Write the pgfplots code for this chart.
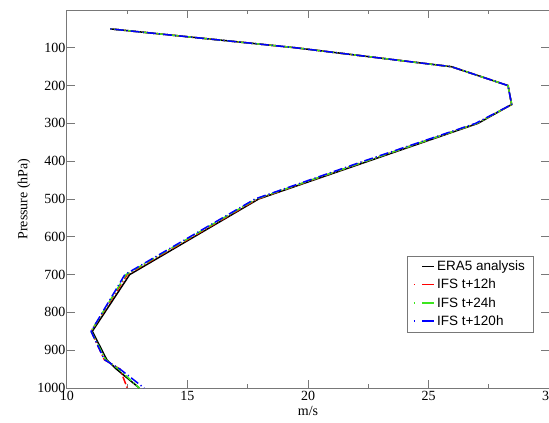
\documentclass[border=0pt]{standalone}
\usepackage{pgfplots}
\pgfplotsset{compat=1.18}
\usepackage{fontspec}
\setmainfont{Liberation Serif}
\newfontfamily\legfont{Liberation Sans}
\definecolor{axgray}{RGB}{120,120,120}
\definecolor{ifsgreen}{RGB}{60,230,30}
\pgfplotsset{
  ifsleg/.style={legend image code/.code={%
    \draw[line width=1.5pt,##1,solid] (0cm,0cm) -- (0.05cm,0cm);
    \draw[line width=1.5pt,##1,solid] (0.3cm,0cm) -- (0.72cm,0cm);}},
}
\begin{document}
\begin{tikzpicture}[trim axis right]
\begin{axis}[
  scale only axis, width=482pt, height=378pt,
  xmin=10, xmax=30, ymin=0, ymax=1000, y dir=reverse,
  xtick={10,15,20,25,30}, minor xtick={12.5,17.5,22.5,27.5},
  ytick={100,200,300,400,500,600,700,800,900,1000},
  tick align=inside, major tick length=8pt, minor tick length=4pt,
  axis line style={axgray, line width=1pt},
  every tick/.style={axgray, line width=1pt},
  /pgf/number format/assume math mode=true,
  /pgf/number format/1000 sep={},
  tick label style={font=\fontsize{14}{16}\selectfont},
  yticklabel style={inner sep=1.5pt},
  xticklabel style={inner sep=3pt},
  xlabel={m/s}, ylabel={Pressure (hPa)},
  label style={font=\fontsize{14}{16}\selectfont},
  xlabel style={yshift=1pt},
  ylabel style={yshift=2pt},
  legend cell align=left,
  legend style={at={(0.967,0.148)}, anchor=south east, draw=axgray,
    font=\legfont\fontsize{13.5}{15}\selectfont, inner xsep=6pt, inner ysep=3pt, row sep=3pt},
  legend image code/.code={\draw[line width=1.5pt,#1,solid] (0.3cm,0cm) -- (0.72cm,0cm);},
]
\coordinate (ax) at (rel axis cs:0,1);
\addplot[black, line width=1.5pt] coordinates {
(11.80,50) (19.5,100) (25.95,150) (28.3,200) (28.45,250) (27.05,300) (22.5,400)
(17.95,500) (12.6,700) (11.05,850) (11.65,925) (12.05,950) (13.0,1000)};
\addlegendentry{ERA5 analysis}
\addplot[red, line width=1.5pt, dash pattern=on 1.2pt off 2.5pt on 8pt off 2.5pt, ifsleg] coordinates {
(11.80,50) (19.5,100) (25.95,150) (28.3,200) (28.45,250) (27.0,300) (22.4,400)
(17.9,500) (12.5,700) (11.0,850) (11.55,925) (12.2,950) (12.5,1000)};
\addlegendentry{IFS t+12h}
\addplot[ifsgreen, line width=1.5pt, dash pattern=on 1.2pt off 2.5pt on 8pt off 2.5pt, ifsleg] coordinates {
(11.80,50) (19.5,100) (25.95,150) (28.3,200) (28.45,250) (27.0,300) (22.4,400)
(17.85,500) (12.45,700) (11.0,850) (11.6,925) (12.15,950) (13.0,1000)};
\addlegendentry{IFS t+24h}
\addplot[blue, line width=1.5pt, dash pattern=on 1.2pt off 3pt on 9pt off 3pt, ifsleg] coordinates {
(11.80,50) (19.5,100) (25.95,150) (28.3,200) (28.45,250) (26.95,300) (22.3,400)
(17.8,500) (12.4,700) (11.0,850) (11.55,925) (12.2,950) (13.2,1000)};
\addlegendentry{IFS t+120h}
\end{axis}
\path (ax) ++(-67pt,10pt);
\path (ax) ++(0,-413pt);
\end{tikzpicture}
\end{document}
